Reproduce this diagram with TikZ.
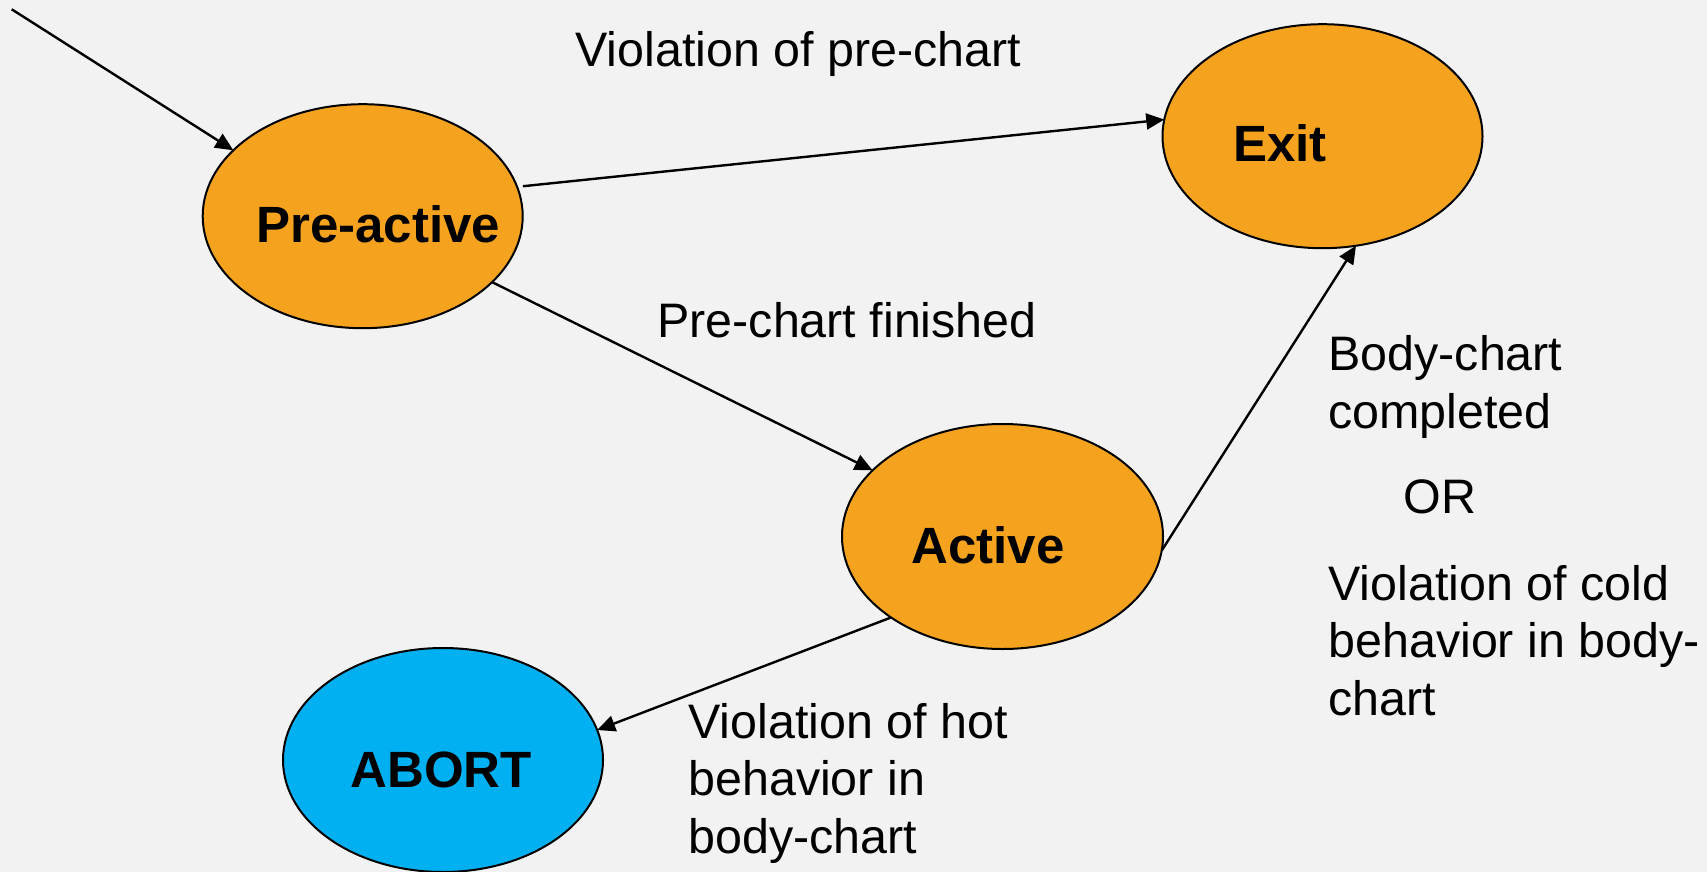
\documentclass[tikz,border=0pt]{standalone}
\usepackage{fontspec}
\setmainfont{Liberation Sans}
\usetikzlibrary{shapes.geometric,arrows.meta}

\definecolor{bgcol}{HTML}{F2F2F2}
\definecolor{stateorange}{HTML}{F5A31F}
\definecolor{stateblue}{HTML}{00B0F0}

\tikzset{
  statenode/.style={ellipse, draw=black, line width=1pt, inner sep=0pt, outer sep=0pt,
    minimum width=160pt, minimum height=112pt},
  statelabel/.style={anchor=base west, inner sep=0pt, font=\fontsize{25.5}{30}\selectfont\bfseries},
  translabel/.style={anchor=base west, inner sep=0pt, align=left, font=\fontsize{24.2}{28.75}\selectfont},
  trans/.style={line width=1.2pt, -{Triangle[length=9pt,width=8pt]}}
}

\begin{document}
\begin{tikzpicture}[x=0.5pt,y=-0.5pt]
  % canvas
  \fill[bgcol] (0,0) rectangle (1707,872);
  \useasboundingbox (0,0) rectangle (1707,872);

  % states
  \node[statenode, fill=stateorange] (pre) at (362.7,216.2) {};
  \node[statenode, fill=stateorange] (exit) at (1322.5,136.2) {};
  \node[statenode, fill=stateorange, minimum width=160.5pt, minimum height=112.5pt] (act) at (1002.5,536.5) {};
  \node[statenode, fill=stateblue] (abort) at (443,760) {};

  % state names
  \node[statelabel] (preL) at (256,242) {Pre-active};
  \node[statelabel] (exitL) at (1232.7,162) {Exit};
  \node[statelabel] (actL) at (911,563) {Active};
  \node[statelabel] (abortL) at (350,787) {ABORT};

  % transitions
  \coordinate (init) at (11.7,9.3);
  \draw[trans] (init) -- (pre.153.6);
  \draw[trans] ([xshift=3pt]pre.11.3) -- (exit.174.6);
  \draw[trans] (pre.-27.1) -- (act.153.5);
  \draw[trans] (act.-5.9) -- (exit.-73.9);
  \draw[trans] (act.-144.4) -- (abort.11.3);

  % transition labels (multi-line labels sit on their last baseline)
  \node[translabel] (lviolpre) at (575,67) {Violation of pre-chart};
  \node[translabel] (lfinished) at (657,337) {Pre-chart finished};
  \node[translabel] (lbody) at (1328,428) {Body-chart\\completed};
  \node[translabel] (lor) at (1403,513) {OR};
  \node[translabel] (lcold) at (1328,715) {Violation of cold\\behavior in body-\\chart};
  \node[translabel] (lhot) at (688,853) {Violation of hot\\behavior in\\body-chart};
\end{tikzpicture}
\end{document}
